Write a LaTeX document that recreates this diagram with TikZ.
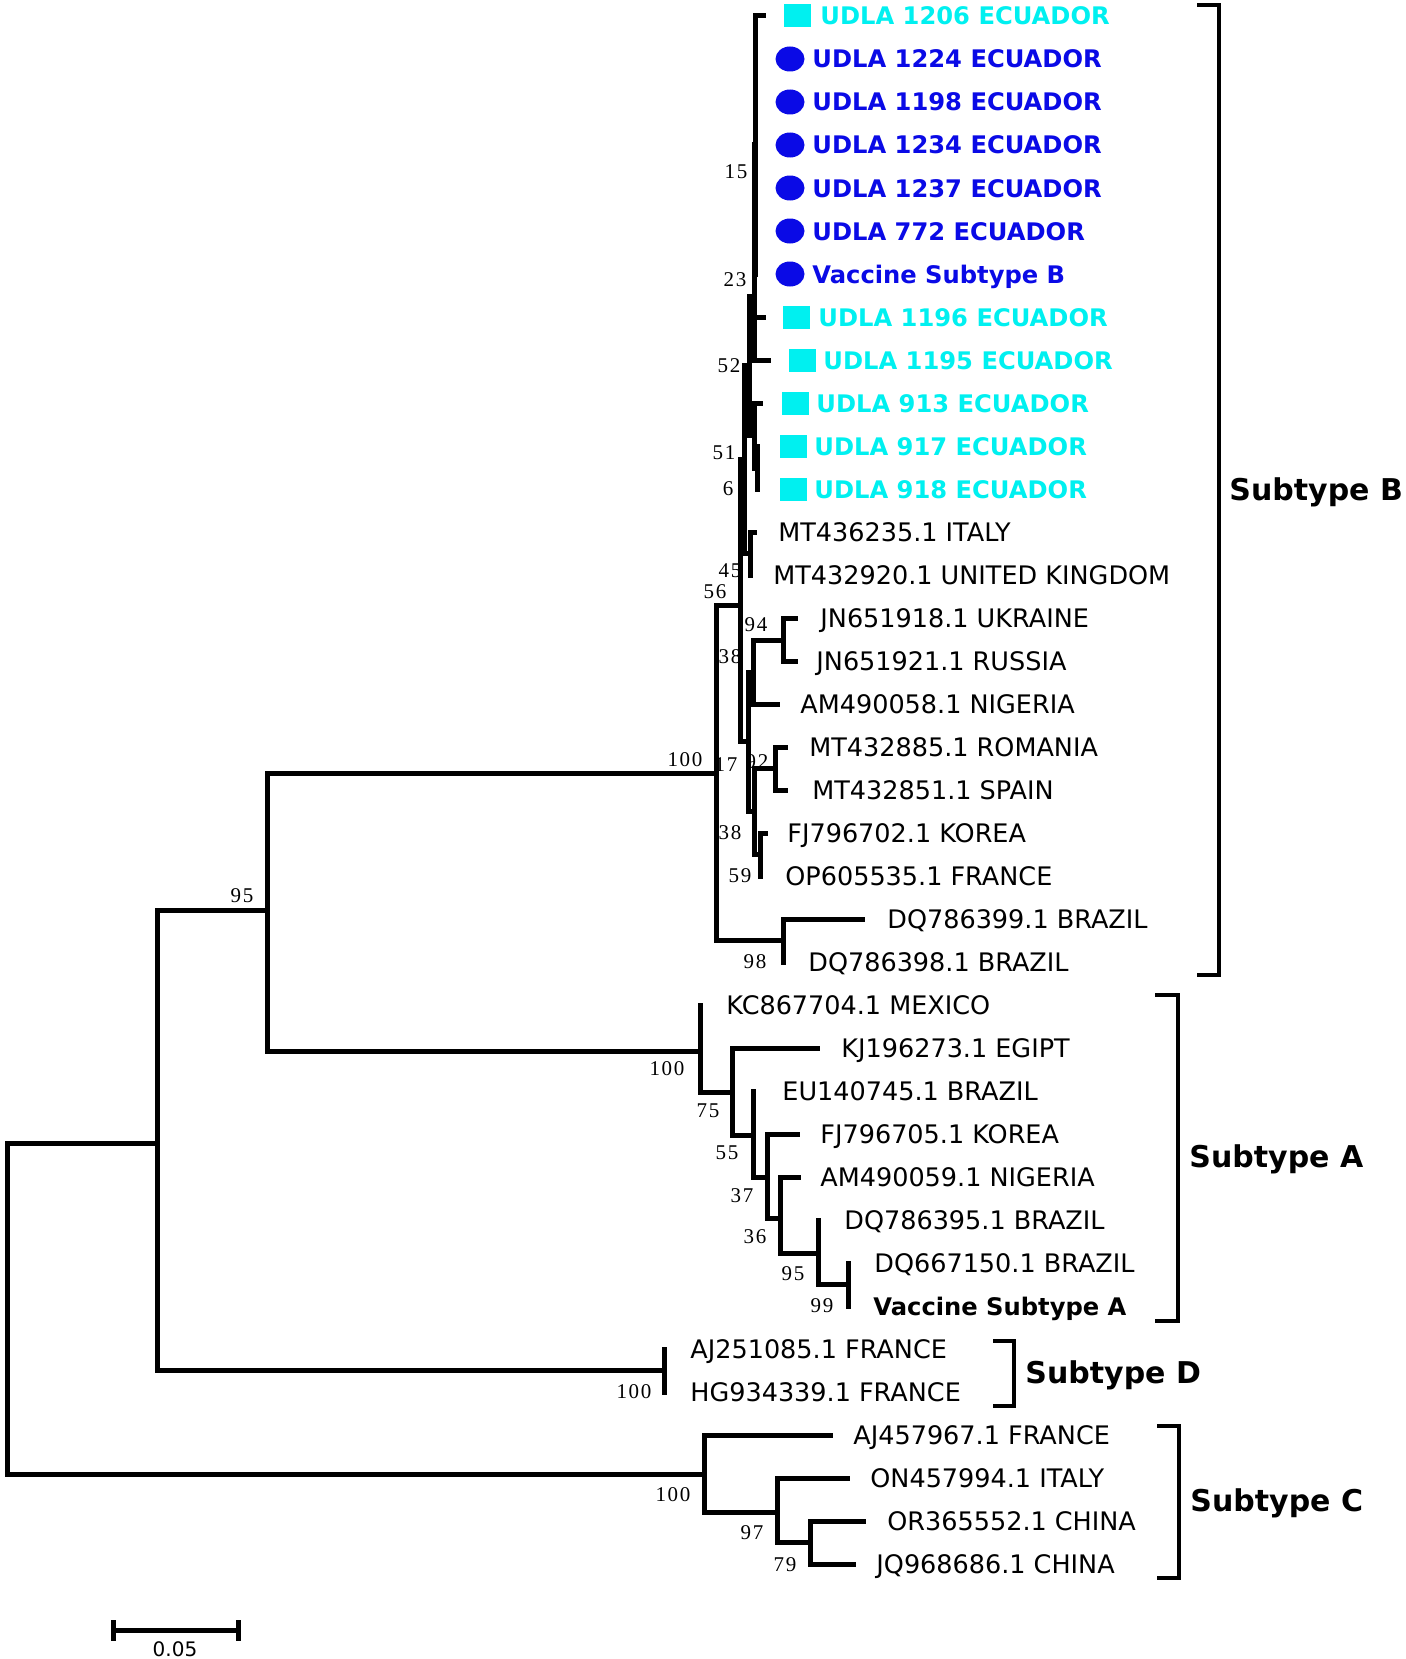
\documentclass[tikz,border=0pt]{standalone}
\usepackage{fontspec}
\usetikzlibrary{shapes.geometric}
\newfontfamily\labfont{DejaVu Sans}
\newfontfamily\bsfont[LetterSpace=8]{Liberation Serif}
\definecolor{ucyan}{RGB}{0,240,240}
\definecolor{ublue}{RGB}{10,10,230}
\begin{document}
\begin{tikzpicture}[x=0.5pt,y=-0.5pt,
  br/.style={line width=2.5pt, line cap=rect, line join=miter},
  brk/.style={line width=2.4pt, line cap=rect, line join=miter},
  lab/.style={anchor=base west, inner sep=0pt, font=\labfont\fontsize{12.75}{14}\selectfont},
  blab/.style={anchor=base west, inner sep=0pt, font=\labfont\bfseries\fontsize{12.1}{14}\selectfont},
  bs/.style={anchor=center, inner sep=0pt, font=\bsfont\fontsize{10.5}{12}\selectfont},
  sub/.style={anchor=base west, inner sep=0pt, font=\labfont\bfseries\fontsize{15}{18}\selectfont},
  sq/.style={fill=ucyan, minimum width=13.5pt, minimum height=11.5pt, inner sep=0pt, draw=none},
  dot/.style={ellipse, fill=ublue, minimum width=14.5pt, minimum height=12.5pt, inner sep=0pt, draw=none}
]
\fill[white] (0,0) rectangle (1406,1659);
\useasboundingbox (0,0) rectangle (1406,1659);

% internal nodes
\coordinate (R0) at (7,1308);
\coordinate (NABD) at (157,1143);
\coordinate (NC) at (704,1474);
\coordinate (N95) at (267,910);
\coordinate (ND) at (664,1370);
\coordinate (NB) at (716,773);
\coordinate (NA) at (700,1051);
\coordinate (N75) at (732,1092);
\coordinate (N55) at (753,1135);
\coordinate (N37) at (767,1177);
\coordinate (N36) at (780,1218);
\coordinate (N95a) at (818,1253);
\coordinate (N99) at (848,1284);
\coordinate (N97) at (777,1512);
\coordinate (N79) at (810,1542);
\coordinate (N98) at (783,940);
\coordinate (N56) at (740,605);
\coordinate (N17) at (748,741);
\coordinate (N38a) at (753,672);
\coordinate (N94) at (783,640);
\coordinate (N38b) at (754,811);
\coordinate (N92) at (775,768);
\coordinate (N59) at (760,854);
\coordinate (P1) at (744,459);
\coordinate (P45) at (750,553);
\coordinate (P2) at (749,365);
\coordinate (P3) at (754,296);
\coordinate (P4) at (754,231);
\coordinate (P5) at (755,145);
\coordinate (P51) at (754,435);
\coordinate (P6) at (757,468);

% leaves (branch tips)
\coordinate (L0) at (763,16);
\coordinate (L1) at (755,59);
\coordinate (L2) at (755,102);
\coordinate (L3) at (755,145);
\coordinate (L4) at (755,188);
\coordinate (L5) at (755,231);
\coordinate (L6) at (755,274);
\coordinate (L7) at (763,317);
\coordinate (L8) at (768,360);
\coordinate (L9) at (760,403);
\coordinate (L10) at (757,446);
\coordinate (L11) at (757,489);
\coordinate (L12) at (754,532);
\coordinate (L13) at (750,575);
\coordinate (L14) at (795,618);
\coordinate (L15) at (795,661);
\coordinate (L16) at (777,704);
\coordinate (L17) at (785,747);
\coordinate (L18) at (785,790);
\coordinate (L19) at (765,833);
\coordinate (L20) at (760,876);
\coordinate (L21) at (862,919);
\coordinate (L22) at (783,962);
\coordinate (L23) at (700,1005);
\coordinate (L24) at (817,1048);
\coordinate (L25) at (753,1091);
\coordinate (L26) at (797,1134);
\coordinate (L27) at (798,1177);
\coordinate (L28) at (818,1220);
\coordinate (L29) at (848,1263);
\coordinate (L30) at (848,1306);
\coordinate (L31) at (664,1349);
\coordinate (L32) at (664,1392);
\coordinate (L33) at (830,1435);
\coordinate (L34) at (847,1478);
\coordinate (L35) at (863,1521);
\coordinate (L36) at (853,1564);

% branches
\draw[br] (R0) |- (NABD) (R0) |- (NC);
\draw[br] (NABD) |- (N95) (NABD) |- (ND);
\draw[br] (N95) |- (NB) (N95) |- (NA);
\draw[br] (NB) |- (N56) (NB) |- (N98);
\draw[br] (N56) |- (P1) (N56) |- (N17);
\draw[br] (P1) |- (P2) (P1) |- (P45);
\draw[br] (P2) |- (P3) (P2) |- (P51);
\draw[br] (P3) |- (P4) (P3) |- (L8);
\draw[br] (P4) |- (P5) (P4) |- (L7);
\draw[br] (P5) |- (L0) (P5) |- (L1) (P5) |- (L2) (P5) |- (L3) (P5) |- (L4) (P5) |- (L5) (P5) |- (L6);
\draw[br] (P51) |- (L9) (P51) |- (P6);
\draw[br] (P6) |- (L10) (P6) |- (L11);
\draw[br] (P45) |- (L12) (P45) |- (L13);
\draw[br] (N17) |- (N38a) (N17) |- (N38b);
\draw[br] (N38a) |- (N94) (N38a) |- (L16);
\draw[br] (N94) |- (L14) (N94) |- (L15);
\draw[br] (N38b) |- (N92) (N38b) |- (N59);
\draw[br] (N92) |- (L17) (N92) |- (L18);
\draw[br] (N59) |- (L19) (N59) |- (L20);
\draw[br] (N98) |- (L21) (N98) |- (L22);
\draw[br] (NA) |- (L23) (NA) |- (N75);
\draw[br] (N75) |- (L24) (N75) |- (N55);
\draw[br] (N55) |- (L25) (N55) |- (N37);
\draw[br] (N37) |- (L26) (N37) |- (N36);
\draw[br] (N36) |- (L27) (N36) |- (N95a);
\draw[br] (N95a) |- (L28) (N95a) |- (N99);
\draw[br] (N99) |- (L29) (N99) |- (L30);
\draw[br] (ND) |- (L31) (ND) |- (L32);
\draw[br] (NC) |- (L33) (NC) |- (N97);
\draw[br] (N97) |- (L34) (N97) |- (N79);
\draw[br] (N79) |- (L35) (N79) |- (L36);

% markers
\node[sq] (m0) at (797,16) {};
\node[dot] (m1) at (790,59) {};
\node[dot] (m2) at (790,102) {};
\node[dot] (m3) at (790,145) {};
\node[dot] (m4) at (790,188) {};
\node[dot] (m5) at (790,231) {};
\node[dot] (m6) at (790,274) {};
\node[sq] (m7) at (796,317) {};
\node[sq] (m8) at (802,360) {};
\node[sq] (m9) at (795,403) {};
\node[sq] (m10) at (793,446) {};
\node[sq] (m11) at (793,489) {};

% leaf labels
\node[blab, text=ucyan] (t0) at (820,25) {UDLA 1206 ECUADOR};
\node[blab, text=ublue] (t1) at (812,68) {UDLA 1224 ECUADOR};
\node[blab, text=ublue] (t2) at (812,111) {UDLA 1198 ECUADOR};
\node[blab, text=ublue] (t3) at (812,154) {UDLA 1234 ECUADOR};
\node[blab, text=ublue] (t4) at (812,197) {UDLA 1237 ECUADOR};
\node[blab, text=ublue] (t5) at (812,240) {UDLA 772 ECUADOR};
\node[blab, text=ublue] (t6) at (812,283) {Vaccine Subtype B};
\node[blab, text=ucyan] (t7) at (818,326) {UDLA 1196 ECUADOR};
\node[blab, text=ucyan] (t8) at (823,369) {UDLA 1195 ECUADOR};
\node[blab, text=ucyan] (t9) at (816,412) {UDLA 913 ECUADOR};
\node[blab, text=ucyan] (t10) at (814,455) {UDLA 917 ECUADOR};
\node[blab, text=ucyan] (t11) at (814,498) {UDLA 918 ECUADOR};
\node[lab] (t12) at (778,541) {MT436235.1 ITALY};
\node[lab] (t13) at (773,584) {MT432920.1 UNITED KINGDOM};
\node[lab] (t14) at (820,627) {JN651918.1 UKRAINE};
\node[lab] (t15) at (816,670) {JN651921.1 RUSSIA};
\node[lab] (t16) at (800,713) {AM490058.1 NIGERIA};
\node[lab] (t17) at (809,756) {MT432885.1 ROMANIA};
\node[lab] (t18) at (812,799) {MT432851.1 SPAIN};
\node[lab] (t19) at (787,842) {FJ796702.1 KOREA};
\node[lab] (t20) at (785,885) {OP605535.1 FRANCE};
\node[lab] (t21) at (887,928) {DQ786399.1 BRAZIL};
\node[lab] (t22) at (808,971) {DQ786398.1 BRAZIL};
\node[lab] (t23) at (726,1014) {KC867704.1 MEXICO};
\node[lab] (t24) at (841,1057) {KJ196273.1 EGIPT};
\node[lab] (t25) at (782,1100) {EU140745.1 BRAZIL};
\node[lab] (t26) at (820,1143) {FJ796705.1 KOREA};
\node[lab] (t27) at (820,1186) {AM490059.1 NIGERIA};
\node[lab] (t28) at (844,1229) {DQ786395.1 BRAZIL};
\node[lab] (t29) at (874,1272) {DQ667150.1 BRAZIL};
\node[blab] (t30) at (873,1315) {Vaccine Subtype A};
\node[lab] (t31) at (690,1358) {AJ251085.1 FRANCE};
\node[lab] (t32) at (690,1401) {HG934339.1 FRANCE};
\node[lab] (t33) at (853,1444) {AJ457967.1 FRANCE};
\node[lab] (t34) at (870,1487) {ON457994.1 ITALY};
\node[lab] (t35) at (887,1530) {OR365552.1 CHINA};
\node[lab] (t36) at (876,1573) {JQ968686.1 CHINA};

% bootstrap values
\node[bs] (b1) at (736,172) {15};
\node[bs] (b2) at (735,280) {23};
\node[bs] (b3) at (729,366) {52};
\node[bs] (b4) at (724,453) {51};
\node[bs] (b5) at (728,489) {6};
\node[bs] (b6) at (730,571) {45};
\node[bs] (b7) at (715,592) {56};
\node[bs] (b8) at (756,625) {94};
\node[bs] (b9) at (730,657) {38};
\node[bs] (b10) at (685,760) {100};
\node[bs] (b11) at (726,765) {17};
\node[bs] (b12) at (757,762) {92};
\node[bs] (b13) at (730,833) {38};
\node[bs] (b14) at (740,876) {59};
\node[bs] (b15) at (755,962) {98};
\node[bs] (b16) at (242,896) {95};
\node[bs] (b17) at (667,1069) {100};
\node[bs] (b18) at (708,1111) {75};
\node[bs] (b19) at (727,1153) {55};
\node[bs] (b20) at (742,1196) {37};
\node[bs] (b21) at (755,1237) {36};
\node[bs] (b22) at (793,1274) {95};
\node[bs] (b23) at (822,1306) {99};
\node[bs] (b24) at (634,1392) {100};
\node[bs] (b25) at (673,1495) {100};
\node[bs] (b26) at (752,1533) {97};
\node[bs] (b27) at (785,1565) {79};

% brackets
\coordinate (kB1) at (1199,5); \coordinate (kB2) at (1219,5);
\coordinate (kB3) at (1219,975); \coordinate (kB4) at (1199,975);
\draw[brk] (kB1) -- (kB2) -- (kB3) -- (kB4);
\coordinate (kA1) at (1157,995); \coordinate (kA2) at (1178,995);
\coordinate (kA3) at (1178,1321); \coordinate (kA4) at (1157,1321);
\draw[brk] (kA1) -- (kA2) -- (kA3) -- (kA4);
\coordinate (kD1) at (995,1341); \coordinate (kD2) at (1014,1341);
\coordinate (kD3) at (1014,1406); \coordinate (kD4) at (995,1406);
\draw[brk] (kD1) -- (kD2) -- (kD3) -- (kD4);
\coordinate (kC1) at (1159,1426); \coordinate (kC2) at (1179,1426);
\coordinate (kC3) at (1179,1578); \coordinate (kC4) at (1159,1578);
\draw[brk] (kC1) -- (kC2) -- (kC3) -- (kC4);

\node[sub] (sB) at (1229,500) {Subtype B};
\node[sub] (sA) at (1189,1167) {Subtype A};
\node[sub] (sD) at (1025,1383) {Subtype D};
\node[sub] (sC) at (1190,1511) {Subtype C};

% scale bar
\coordinate (s1) at (113,1630); \coordinate (s2) at (238,1630);
\coordinate (s1a) at (113,1622); \coordinate (s1b) at (113,1638);
\coordinate (s2a) at (238,1622); \coordinate (s2b) at (238,1638);
\draw[br] (s1) -- (s2);
\draw[br] (s1a) -- (s1b);
\draw[br] (s2a) -- (s2b);
\node[anchor=center, inner sep=0pt, font=\labfont\fontsize{10}{12}\selectfont] (sl) at (175,1649) {0.05};
\end{tikzpicture}
\end{document}
